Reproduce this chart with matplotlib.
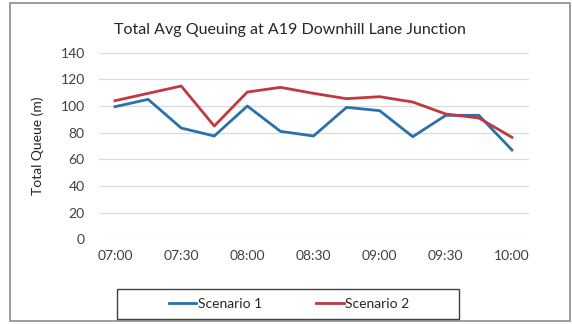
import matplotlib.pyplot as plt
from matplotlib.patches import Rectangle

times = ['07:00', '07:15', '07:30', '07:45', '08:00', '08:15', '08:30',
         '08:45', '09:00', '09:15', '09:30', '09:45', '10:00']
scenario_1 = [99.5, 105, 83.5, 77.5, 100, 81, 77.5, 99, 96.5, 77, 93, 93, 67]
scenario_2 = [104, 109.5, 115, 85, 110.5, 114, 109.5, 105.5, 107, 103, 94, 91, 76.5]

plt.rcParams['font.family'] = ['Lato', 'DejaVu Sans']

W, H = 572, 324
fig = plt.figure(figsize=(W / 100, H / 100), dpi=100)

# outer chart border
fig.patches.append(Rectangle((10 / W, 3 / H), 560 / W, 318 / H, transform=fig.transFigure,
                             fill=False, edgecolor='#8c8c8c', linewidth=1.2))
# legend box (drawn separately, it is wider than its entries)
fig.patches.append(Rectangle((117 / W, 1 - 318.5 / H), 342 / W, 29.5 / H,
                             transform=fig.transFigure, fill=False,
                             edgecolor='#404040', linewidth=1))

ax = fig.add_axes([98.5 / W, 1 - 239.3 / H, 430 / W, 186.6 / H])
x = list(range(len(times)))
ax.plot(x, scenario_1, color='#2a70aa', linewidth=2, label='Scenario 1')
ax.plot(x, scenario_2, color='#c0393f', linewidth=2, label='Scenario 2')

ax.set_xlim(-0.5, len(times) - 0.5)
ax.set_ylim(0, 140)
ax.set_yticks(range(0, 141, 20))
ax.set_xticks(x[::2])
ax.set_xticklabels(times[::2])
ax.tick_params(length=0, labelsize=10, colors='#404040', pad=8)
ax.tick_params(axis='y', pad=10)
ax.grid(axis='y', color='#d9d9d9', linewidth=0.8)
ax.set_axisbelow(True)
for s in ax.spines.values():
    s.set_visible(False)

ax.set_ylabel('Total Queue (m)', fontsize=10, color='#262626', labelpad=12)
fig.text(0.507, 1 - 30 / H, 'Total Avg Queuing at A19 Downhill Lane Junction',
         ha='center', va='center', fontsize=11.5, color='#262626')

leg = fig.legend(loc='center', bbox_to_anchor=(289 / W, 1 - 303.5 / H), ncol=2,
                 frameon=False, fontsize=10, handlelength=2.0,
                 handletextpad=0.1, columnspacing=3.9)
for t in leg.get_texts():
    t.set_color('#262626')

fig.savefig('out.png', dpi=100)
